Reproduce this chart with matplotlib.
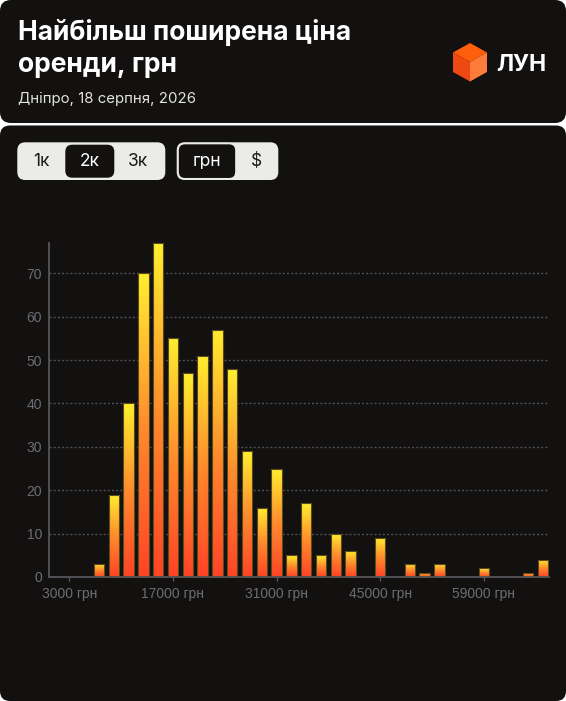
import matplotlib
matplotlib.use("Agg")
import matplotlib.pyplot as plt
import numpy as np
from matplotlib.patches import FancyBboxPatch, Polygon
from matplotlib.colors import LinearSegmentedColormap

plt.rcParams['font.family'] = ['Inter', 'DejaVu Sans']

# дані: ціна оренди (центр інтервалу, грн) і кількість оголошень
prices = [7000, 9000, 11000, 13000, 15000, 17000, 19000, 21000, 23000, 25000,
          27000, 29000, 31000, 33000, 35000, 37000, 39000, 41000, 43000, 45000,
          47000, 49000, 51000, 53000, 55000, 57000, 59000, 61000, 63000, 65000,
          67000]
counts = [3, 19, 40, 70, 77, 55, 47, 51, 57, 48,
          29, 16, 25, 5, 17, 5, 10, 6, 0, 9,
          0, 3, 1, 3, 0, 0, 2, 0, 0, 1,
          4]
x_ticks = [3000, 17000, 31000, 45000, 59000]
x_labels = ["3000 грн", "17000 грн", "31000 грн", "45000 грн", "59000 грн"]
y_ticks = [0, 10, 20, 30, 40, 50, 60, 70]

title = "Найбільш поширена ціна\nоренди, грн"
subtitle = "Дніпро, 18 серпня, 2026"
bin_buttons = ["1к", "2к", "3к"]
cur_buttons = ["грн", "$"]

W, H = 566, 701
BG = "#121110"
LIGHT = "#ebebe8"
GRAY = "#6c6c74"

fig = plt.figure(figsize=(W / 100, H / 100), dpi=100)
fig.patch.set_facecolor("white")

# фон в пікселях
bg = fig.add_axes([0, 0, 1, 1])
bg.set_xlim(0, W)
bg.set_ylim(H, 0)
bg.axis("off")


def rrect(ax, x, y, w, h, r, fc, ec="none", lw=0, z=1):
    p = FancyBboxPatch((x, y), w, h, boxstyle="round,pad=0,rounding_size=%s" % r,
                       fc=fc, ec=ec, lw=lw, zorder=z)
    ax.add_patch(p)
    return p


# картки
rrect(bg, 0, 0, W, 123, 11, BG)
rrect(bg, 0, 125.5, W, H - 125.5, 10, BG)

# заголовок
for line, yb in zip(title.split("\n"), [39.5, 72.5]):
    bg.text(18, yb, line, color="white", fontsize=19, fontweight="bold",
            va="baseline", ha="left")
bg.text(18, 103, subtitle, color="#e2e2e0", fontsize=10.8, va="baseline", ha="left")

# логотип
c = (470, 62)
top, ur, lr = (470, 43), (487, 52.5), (487, 72)
bot, ll, ul = (470, 81.5), (453, 72), (453, 52.5)
bg.add_patch(Polygon([top, ur, c, ul], closed=True, fc="#ff5e0a", ec="none", zorder=2))
bg.add_patch(Polygon([ul, c, bot, ll], closed=True, fc="#ee4912", ec="none", zorder=2))
bg.add_patch(Polygon([c, ur, lr, bot], closed=True, fc="#ff7b3a", ec="none", zorder=2))
bg.text(496, 70.7, "ЛУН", color="white", fontsize=16.5, fontweight="bold",
        va="baseline", ha="left")

# кнопки
rrect(bg, 17.3, 142.3, 148, 37.7, 8, LIGHT, z=2)
rrect(bg, 65.3, 144.7, 49, 33, 7, BG, z=3)
for lbl, cx in zip(bin_buttons, [41.7, 89.7, 138.3]):
    col = "white" if lbl == "2к" else "#1a1a1a"
    bg.text(cx, 161.5, lbl, color=col, fontsize=12.5, ha="center", va="center", zorder=4)

rrect(bg, 176.7, 142.3, 101.6, 37.7, 8, LIGHT, z=2)
rrect(bg, 178, 143.5, 58, 35.3, 7, BG, ec=LIGHT, lw=1.2, z=3)
for lbl, cx in zip(cur_buttons, [207, 256]):
    col = "white" if lbl == "грн" else "#1a1a1a"
    bg.text(cx, 161.5, lbl, color=col, fontsize=12.5, ha="center", va="center", zorder=4)

# графік
ax = fig.add_axes([49 / W, (H - 577) / H, 500 / W, 334 / H])
ax.set_facecolor("none")

cmap = LinearSegmentedColormap.from_list("fire", ["#ff4326", "#ff8c2c", "#ffef2f"])
grad = np.linspace(0, 1, 256).reshape(-1, 1)
bw = 1400

bars = ax.bar(prices, counts, width=bw, facecolor="none", edgecolor="#5c4a1c",
              linewidth=0.8, zorder=3)
for b, p, v in zip(bars, prices, counts):
    if v == 0:
        b.set_visible(False)
        continue
    im = ax.imshow(grad, extent=(p - bw / 2, p + bw / 2, 0, v), origin="lower",
                   cmap=cmap, aspect="auto", zorder=2)
    im.set_clip_path(b)

ax.set_xlim(250, 67800)
ax.set_ylim(0, 77)

ax.set_yticks(y_ticks)
ax.set_xticks(x_ticks)
ax.set_xticklabels(x_labels)
ax.tick_params(axis="y", length=0, pad=5, labelcolor=GRAY, labelsize=10)
ax.tick_params(axis="x", length=3, width=1, color="#55555d", pad=4,
               labelcolor=GRAY, labelsize=10)
for lab in ax.get_xticklabels() + ax.get_yticklabels():
    lab.set_family(["Liberation Sans", "DejaVu Sans"])

ax.yaxis.grid(True, color="#4d4d58", linewidth=1.0, linestyle=(0, (1.5, 1.5)))
ax.set_axisbelow(True)
for s in ["top", "right"]:
    ax.spines[s].set_visible(False)
for s in ["left", "bottom"]:
    ax.spines[s].set_color("#55555d")
    ax.spines[s].set_linewidth(1.3)

fig.savefig("out.png", dpi=100, facecolor=fig.get_facecolor())
